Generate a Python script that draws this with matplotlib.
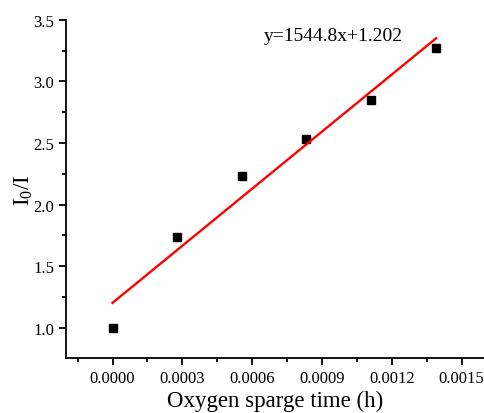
import matplotlib.pyplot as plt
import numpy as np
from matplotlib.ticker import MultipleLocator

plt.rcParams['font.family'] = ['Liberation Serif', 'DejaVu Serif']
plt.rcParams['mathtext.fontset'] = 'custom'
plt.rcParams['mathtext.rm'] = 'Liberation Serif'
plt.rcParams['mathtext.it'] = 'Liberation Serif'

# sparge time (h) and I0/I ratio
time_h = [0.0, 0.000278, 0.000556, 0.000833, 0.00111, 0.00139]
ratio = [1.0, 1.74, 2.235, 2.535, 2.85, 3.27]

# linear fit reported on the chart
slope = 1544.8
intercept = 1.202

fig, ax = plt.subplots(figsize=(4.85, 4.14), dpi=100)
fig.subplots_adjust(left=0.136, right=1.0, top=0.95, bottom=0.133)

ax.plot(time_h, ratio, 's', color='black', markersize=6)
xfit = np.array([time_h[0], time_h[-1]])
ax.plot(xfit, slope * xfit + intercept, color='red', linewidth=1.7)
ax.text(0.000947, 3.37, 'y=1544.8x+1.202', fontsize=14, ha='center', va='center')

ax.set_xlim(-0.0002, 0.0016)
ax.set_ylim(0.755, 3.5)
ax.xaxis.set_major_locator(MultipleLocator(0.0003))
ax.xaxis.set_minor_locator(MultipleLocator(0.00015))
ax.yaxis.set_major_locator(MultipleLocator(0.5))
ax.yaxis.set_minor_locator(MultipleLocator(0.25))
ax.xaxis.set_major_formatter(plt.FuncFormatter(lambda v, p: '%.4f' % v))
ax.yaxis.set_major_formatter(plt.FuncFormatter(lambda v, p: '%.1f' % v))

for s in ['top', 'right']:
    ax.spines[s].set_visible(False)
for s in ['left', 'bottom']:
    ax.spines[s].set_linewidth(1.3)
ax.tick_params(which='major', length=5, width=1.3, labelsize=12)
ax.tick_params(which='minor', length=3, width=1.3)

ax.set_xlabel('Oxygen sparge time (h)', fontsize=16.5, labelpad=3)
ax.set_ylabel('I$_0$/I', fontsize=16.5, labelpad=-1)

plt.savefig('out.png')
